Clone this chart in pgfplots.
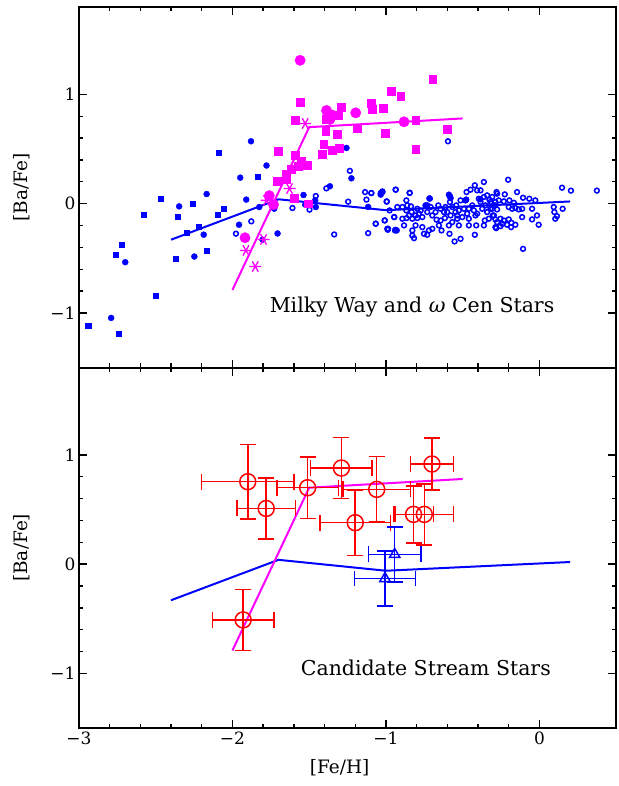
\documentclass[border=0pt]{standalone}
\usepackage{fontspec}
\setmainfont{DejaVu Serif}
\usepackage{pgfplots}
\pgfplotsset{compat=1.18}
\definecolor{pblue}{rgb}{0,0,1}
\definecolor{pmag}{rgb}{1,0,1}
\definecolor{pred}{rgb}{1,0,0}

\pgfplotsset{
  panel/.style={
    width=538pt, height=361pt, scale only axis,
    xmin=-3, xmax=0.5, ymin=-1.5, ymax=1.8,
    axis line style={line width=2pt},
    tick align=inside,
    major tick length=8pt, minor tick length=4.5pt,
    every tick/.style={black, line width=1.4pt},
    xtick={-3,-2,-1,0}, ytick={-1,0,1},
    minor x tick num=4, minor y tick num=4,
    yticklabels={−1,0,1},
    tick label style={font=\fontsize{17}{17}\selectfont},
    label style={font=\fontsize{18.5}{20}\selectfont},
    ylabel={[Ba/Fe]},
    ylabel style={at={(axis description cs:-0.106,0.5)}, anchor=center},
    clip=false,
  },
  mwline/.style={pblue, line width=2pt, mark=none},
  ocline/.style={pmag, line width=2pt, mark=none},
}

% mean trends (shared by both panels)
\pgfplotstableread{
x y
-2.40 -0.33
-1.70 0.04
-1.00 -0.06
0.20 0.02
}\mwtrend
\pgfplotstableread{
x y
-2.00 -0.79
-1.50 0.70
-0.50 0.78
}\octrend

\begin{document}
\begin{tikzpicture}
\begin{axis}[panel, name=top, xticklabels={}]
  % halo: blue squares
  \addplot[only marks, mark=square*, mark size=2.6pt, pblue] coordinates {
    (-2.09,0.47) (-2.467,0.046) (-2.577,-0.10) (-2.259,0.0) (-2.356,-0.12)
    (-2.057,-0.046) (-2.096,-0.10) (-2.298,-0.266) (-2.22,-0.214) (-2.72,-0.376)
    (-2.76,-0.468) (-2.369,-0.505) (-2.168,-0.431) (-2.50,-0.844) (-2.94,-1.12)
    (-2.74,-1.19) (-1.836,0.25)
  };
  % blue filled circles
  \addplot[only marks, mark=*, mark size=3pt, pblue] coordinates {
    (-1.949,0.238) (-2.168,0.088) (-1.91,0.037) (-2.347,-0.025) (-1.957,-0.193)
    (-2.187,-0.284) (-2.248,-0.484) (-2.698,-0.536) (-2.79,-1.046) (-1.879,0.571)
    (-1.778,0.349) (-1.257,0.51) (-1.225,0.232) (-1.365,0.159) (-1.825,-0.031)
    (-1.728,-0.046) (-1.537,0.079) (-1.461,0.03) (-1.457,-0.031) (-1.706,-0.273)
    (-1.804,-0.33) (-1.116,-0.03) (-1.034,0.092) (-0.742,-0.016) (-0.716,0.048)
    (-0.590,0.082) (-0.579,0.051) (-0.482,0.030) (-0.715,0.046) (-0.583,0.067)
    (-0.477,0.037) (-0.384,0.04) (-0.731,-0.016) (-0.941,-0.245) (-0.930,-0.245)
  };
  % disk: blue open circles
  \addplot[only marks, mark=o, mark size=2.4pt, pblue, line width=1.5pt] coordinates {
    (-1.977,-0.275) (-1.877,-0.162) (-1.609,-0.04) (-1.498,-0.055) (-1.526,-0.009)
    (-1.457,0.07) (-1.388,0.14) (-1.235,0.3) (-1.246,0.018) (-1.337,-0.282)
    (-1.136,0.106) (-1.095,0.097) (-1.127,0.037) (-1.066,-0.183) (-1.008,-0.153)
    (-0.995,0.018) (-1.116,-0.27) (-0.991,-0.23) (-1.023,0.106) (-0.596,0.571)
    (-1.032,0.100) (-0.936,0.128) (-0.845,0.100) (-0.945,-0.123) (-0.988,-0.239)
    (-1.095,0.097) (-1.034,0.082) (-1.023,0.112) (-0.937,0.128) (-0.846,0.097)
    (-0.995,0.021) (-1.067,-0.184) (-1.008,-0.154) (-0.947,-0.123) (-0.986,-0.230)
    (-0.937,-0.239) (-0.926,-0.031) (-0.976,-0.062) (-0.867,0.030) (-0.861,-0.016)
    (-0.837,-0.025) (-0.867,-0.062) (-0.796,-0.047) (-0.833,-0.077) (-0.865,-0.132)
    (-0.828,-0.138) (-0.796,-0.132) (-0.763,-0.123) (-0.709,-0.031) (-0.731,-0.077)
    (-0.698,-0.108) (-0.677,-0.077) (-0.659,-0.016) (-0.644,-0.047) (-0.670,-0.147)
    (-0.644,-0.154) (-0.616,-0.132) (-0.583,0.015) (-0.568,-0.031) (-0.601,-0.077)
    (-0.579,-0.108) (-0.568,-0.169) (-0.536,-0.108) (-0.525,-0.062) (-0.542,-0.016)
    (-0.514,0.030) (-0.492,-0.047) (-0.475,0.106) (-0.471,-0.092) (-0.460,-0.138)
    (-0.449,0.128) (-0.421,0.168) (-0.406,0.122) (-0.384,0.122) (-0.362,0.198)
    (-0.395,0.045) (-0.384,0.015) (-0.362,0.061) (-0.341,0.076) (-0.326,0.036)
    (-0.373,-0.047) (-0.341,-0.077) (-0.319,-0.047) (-0.297,-0.016) (-0.287,0.015)
    (-0.304,-0.108) (-0.356,-0.154) (-0.412,-0.199) (-0.362,-0.199) (-0.460,-0.199)
    (-0.525,-0.199) (-0.536,-0.138) (-0.590,-0.199) (-0.586,-0.276) (-0.638,-0.245)
    (-0.655,-0.199) (-0.698,-0.230) (-0.720,-0.245) (-0.763,-0.215) (-0.752,-0.276)
    (-0.731,-0.285) (-0.807,-0.199) (-0.828,-0.245) (-0.828,-0.291) (-0.817,-0.316)
    (-0.882,-0.199) (-0.893,-0.031) (-0.553,-0.346) (-0.514,-0.322) (-0.421,-0.285)
    (-0.287,-0.215) (-0.276,-0.169) (-0.280,0.106) (-0.427,-0.062) (-0.438,-0.016)
    (-0.417,-0.108) (-0.612,-0.031) (-0.622,-0.077) (-0.774,-0.062) (-0.785,-0.092)
    (-0.807,-0.108) (-0.850,-0.108) (-0.893,-0.138) (-0.547,-0.077) (-0.503,-0.123)
    (-0.460,-0.047) (-0.406,-0.092) (-0.352,-0.016) (-0.330,-0.138)
    (-0.204,0.219) (0.147,0.146) (0.205,0.119) (0.374,0.119) (-0.276,0.091)
    (-0.226,0.085) (-0.146,0.106) (-0.107,0.054) (-0.066,0.045) (-0.027,0.030)
    (-0.308,0.061) (-0.319,0.015) (-0.265,0.030) (-0.232,0.021) (-0.196,0.030)
    (-0.167,0.008) (-0.287,-0.016) (-0.308,-0.047) (-0.276,-0.053) (-0.200,-0.031)
    (-0.178,-0.047) (-0.157,-0.040) (-0.135,-0.053) (-0.113,-0.047) (-0.048,-0.047)
    (0.093,-0.031) (0.097,-0.077) (0.151,-0.047) (-0.016,-0.108) (-0.048,-0.144)
    (-0.005,-0.193) (-0.113,-0.123) (0.114,-0.114) (0.103,-0.138) (-0.297,-0.108)
    (-0.287,-0.144) (-0.254,-0.138) (-0.232,-0.154) (-0.200,-0.144) (-0.243,-0.184)
    (-0.211,-0.193) (-0.183,-0.175) (-0.157,-0.193) (-0.282,-0.224) (-0.254,-0.206)
    (-0.185,-0.215) (-0.107,-0.414)
  };
  % omega Cen: magenta squares
  \addplot[only marks, mark=square*, mark size=3.9pt, pmag] coordinates {
    (-1.561,0.927) (-1.589,0.761) (-1.29,0.881) (-1.31,0.81) (-1.392,0.773)
    (-1.392,0.666) (-1.316,0.633) (-1.188,0.691) (-1.095,0.917) (-1.088,0.862)
    (-1.017,0.872) (-1.006,0.645) (-0.967,1.03) (-0.904,0.984) (-0.696,1.14)
    (-0.806,0.761) (-0.806,0.498) (-0.602,0.683) (-1.405,0.547) (-1.414,0.45)
    (-1.349,0.486) (-1.305,0.51) (-1.70,0.48) (-1.589,0.443) (-1.55,0.388)
    (-1.511,0.351) (-1.57,0.342) (-1.615,0.312) (-1.651,0.266) (-1.648,0.22)
    (-1.71,0.205) (-1.598,0.049) (-1.505,0.0)
  };
  % magenta filled circles
  \addplot[only marks, mark=*, mark size=5.2pt, pmag] coordinates {
    (-1.559,1.312) (-1.387,0.853) (-1.365,0.771) (-1.349,0.81) (-1.197,0.831)
    (-0.882,0.749) (-1.76,0.073) (-1.732,-0.009) (-1.918,-0.312)
  };
  % magenta asterisks
  \addplot[only marks, mark=asterisk, mark size=6pt, pmag, line width=1.3pt,
    mark options={rotate=90}] coordinates {
    (-1.526,0.734) (-1.628,0.138) (-1.778,0.03) (-1.797,-0.328) (-1.912,-0.428)
    (-1.851,-0.575)
  };
  \addplot[mwline] table[x=x,y=y]{\mwtrend};
  \addplot[ocline] table[x=x,y=y]{\octrend};
  \node[font=\fontsize{20.5}{24}\selectfont] at (axis cs:-0.83,-0.95)
    {Milky Way and \textit{ω} Cen Stars};
\end{axis}

\begin{axis}[panel, name=bot, at={(top.south west)}, anchor=north west,
    xticklabels={−3,−2,−1,0},
    xlabel={[Fe/H]},
    xlabel style={at={(axis description cs:0.5,0)}, anchor=center, yshift=-40pt, xshift=-8pt}]
  \addplot[mwline] table[x=x,y=y]{\mwtrend};
  \addplot[ocline] table[x=x,y=y]{\octrend};
  % candidate stream stars
  \addplot[only marks, mark=o, mark size=8pt, pred, line width=1.5pt,
    error bars/.cd, x dir=both, x explicit, y dir=both, y explicit,
    error bar style={line width=1.5pt, pred},
    error mark options={rotate=90, mark size=8pt, line width=1.5pt, pred}]
    table[x=x, y=y, x error=ex, y error=ey]{
    x y ex ey
    -1.90 0.755 0.30 0.34
    -1.78 0.51 0.19 0.28
    -1.93 -0.51 0.20 0.28
    -1.51 0.70 0.20 0.28
    -1.29 0.88 0.20 0.28
    -1.06 0.685 0.22 0.30
    -1.20 0.38 0.23 0.30
    -0.82 0.456 0.13 0.26
    -0.75 0.456 0.19 0.28
    -0.70 0.917 0.14 0.24
  };
  \addplot[only marks, mark=triangle, mark size=6pt, pblue, line width=1.5pt,
    error bars/.cd, x dir=both, x explicit, y dir=both, y explicit,
    error bar style={line width=1.5pt, pblue},
    error mark options={rotate=90, mark size=8pt, line width=1.5pt, pblue}]
    table[x=x, y=y, x error=ex, y error=ey]{
    x y ex ey
    -0.943 0.089 0.17 0.25
    -1.006 -0.131 0.20 0.25
  };
  \node[font=\fontsize{20.5}{24}\selectfont] at (axis cs:-0.74,-0.945)
    {Candidate Stream Stars};
\end{axis}
\path ([xshift=-79pt,yshift=-58pt]bot.south west) rectangle ([xshift=2pt,yshift=7pt]top.north east);
\end{tikzpicture}
\end{document}
